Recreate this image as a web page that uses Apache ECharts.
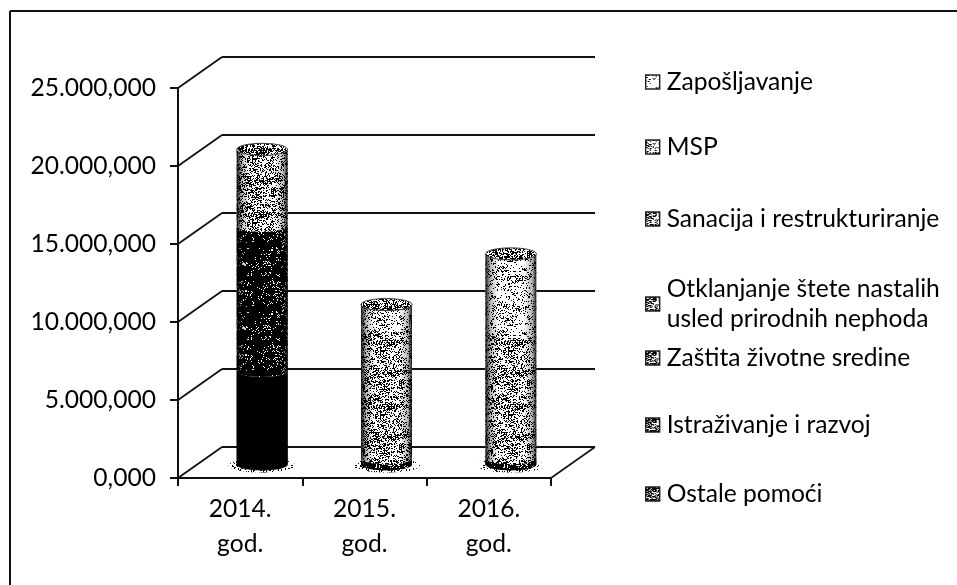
<!DOCTYPE html>
<html><head><meta charset="utf-8">
<style>html,body{margin:0;padding:0;background:#fff}#c{width:957px;height:585px}</style>
<script src="https://cdn.jsdelivr.net/npm/echarts@6/dist/echarts.min.js"></script>
</head><body><div id="c"></div>
<script>
var categories = ['2014.\ngod.', '2015.\ngod.', '2016.\ngod.'];
var seriesNames = ['Ostale pomoći','Istraživanje i razvoj','Zaštita životne sredine','Otklanjanje štete nastalih usled prirodnih nephoda','Sanacija i restrukturiranje','MSP','Zapošljavanje'];
var ostalePomoci   = [6000000, 400000, 400000];
var istrazivanje   = [9300000, 5400000, 3900000];
var zastita        = [0, 0, 0];
var otklanjanje    = [0, 0, 0];
var sanacija       = [0, 3100000, 4200000];
var msp            = [0, 0, 0];
var zaposljavanje  = [4900000, 1350000, 5000000];
var seriesValues = [ostalePomoci, istrazivanje, zastita, otklanjanje, sanacija, msp, zaposljavanje];
var legendTops = [479, 410, 343, 274, 204, 132, 67];
var yMax = 25000000, yStep = 5000000;

// mottled halftone texture (scan look), deterministic hash
function hash(x,y){var h=Math.sin(x*12.9898+y*78.233)*43758.5453;return h-Math.floor(h);}
function tex(ink){
  var c=document.createElement('canvas'); c.width=c.height=64;
  var g=c.getContext('2d'); g.fillStyle='#fff'; g.fillRect(0,0,64,64); g.fillStyle='#000';
  for(var y=0;y<64;y++)for(var x=0;x<64;x++){
    var blob=hash(Math.floor(x/5)+3,Math.floor(y/5)+7)-0.5;
    if(hash(x,y)<ink+blob*0.35*(ink<0.99?1:0)) g.fillRect(x,y,1,1);
  }
  return {image:c,repeat:'repeat'};
}
var patterns={};
function pat(i){ if(!patterns[i]) patterns[i]=tex(i); return patterns[i]; }
var legendInks=[.72,.66,.6,.52,.45,.32,.16];
// ink per [segment][category]
var barInks=[[1,.85,.85],[.92,.4,.36],[.7,.6,.6],[.6,.6,.6],[.5,.36,.36],[.5,.5,.5],[.42,.24,.2]];

var DX=44, DY=-31;     // depth of the 3D box in pixels
var series=[];

series.push({type:'custom',silent:true,z:1,coordinateSystem:'cartesian2d',
  data:[0,5000000,10000000,15000000,20000000,25000000].map(function(v){return [0,v];}),
  encode:{x:0,y:1},
  renderItem:function(params,api){
    var v=api.value(1), cw=api.size([1,0])[0];
    var p=api.coord([0,v]), x0=p[0]-cw/2, y0=p[1];
    var xr=x0+cw*3;
    var kids=[
      {type:'line',shape:{x1:x0,y1:y0,x2:x0+DX,y2:y0+DY},style:{stroke:'#111',lineWidth:1.8}},
      {type:'line',shape:{x1:x0+DX,y1:y0+DY,x2:xr+DX,y2:y0+DY},style:{stroke:'#111',lineWidth:2}}
    ];
    if(v===0) kids.push({type:'line',shape:{x1:xr,y1:y0,x2:xr+DX,y2:y0+DY},style:{stroke:'#111',lineWidth:1.6}});
    return {type:'group',children:kids};
  }});

seriesNames.forEach(function(name,si){
  var rows=[];
  categories.forEach(function(c,ci){
    var base=0; for(var k=0;k<si;k++) base+=seriesValues[k][ci];
    if(seriesValues[si][ci]>0) rows.push([ci,base,base+seriesValues[si][ci]]);
  });
  series.push({type:'custom',name:name,coordinateSystem:'cartesian2d',z:3+si,
    itemStyle:{color:pat(legendInks[si])},
    data:rows,encode:{x:0,y:[1,2]},
    renderItem:function(params,api){
      var ci=api.value(0), lo=api.coord([ci,api.value(1)]), hi=api.coord([ci,api.value(2)]);
      var cx=lo[0]+DX/2, yb=lo[1]+DY/2+2, yt=hi[1]+DY/2+2;
      var rx=api.size([1,0])[0]*0.205, ry=6;
      var body='M'+(cx-rx)+' '+yt+'L'+(cx-rx)+' '+yb+'A'+rx+' '+ry+' 0 0 0 '+(cx+rx)+' '+yb+'L'+(cx+rx)+' '+yt+'A'+rx+' '+ry+' 0 0 1 '+(cx-rx)+' '+yt+'Z';
      var shade={type:'linear',x:0,y:0,x2:1,y2:0,colorStops:[
        {offset:0,color:'rgba(0,0,0,.9)'},{offset:.1,color:'rgba(0,0,0,.3)'},{offset:.25,color:'rgba(0,0,0,0)'},{offset:.75,color:'rgba(0,0,0,0)'},{offset:.92,color:'rgba(0,0,0,.3)'},{offset:1,color:'rgba(0,0,0,.9)'}]};
      var kids=[];
      if(api.value(1)===0){
        kids.push({type:'ellipse',shape:{cx:cx,cy:yb+1,rx:rx+8,ry:ry+1},style:{fill:pat(.15)}});
      }
      kids.push({type:'path',shape:{pathData:body},style:{fill:pat(barInks[si][ci])}});
      kids.push({type:'path',shape:{pathData:body},style:{fill:shade}});
      var total=seriesValues.reduce(function(s,a){return s+a[ci];},0);
      if(api.value(2)===total){
        kids.push({type:'ellipse',shape:{cx:cx,cy:yt,rx:rx,ry:ry},style:{fill:pat(.5),stroke:'#333',lineWidth:1}});
      }
      return {type:'group',children:kids};
    }});
});

var legends=seriesNames.map(function(n,i){
  return {show:true,data:[n],left:645,top:legendTops[i],orient:'vertical',padding:0,
    itemWidth:14,itemHeight:14,itemGap:0,
    icon:'rect',selectedMode:false,
    itemStyle:{borderColor:'#222',borderWidth:1.4},
    textStyle:{fontFamily:'Lato',fontSize:24.6,color:'#000',lineHeight:30,padding:[0,0,0,2]},
    formatter:function(s){return s.replace(' usled','\nusled');}
  };
});

var chart=echarts.init(document.getElementById('c'),null,{renderer:'canvas'});
chart.setOption({
  animation:false,backgroundColor:'#fff',
  graphic:[
    {type:'line',shape:{x1:10,y1:11,x2:957,y2:11},style:{stroke:'#111',lineWidth:2},silent:true,z:0},
    {type:'line',shape:{x1:10,y1:11,x2:10,y2:585},style:{stroke:'#111',lineWidth:2},silent:true,z:0}
  ],
  legend:legends,
  grid:{left:178,top:88,width:373,height:390,containLabel:false},
  xAxis:{type:'category',data:categories,boundaryGap:true,
    axisLine:{lineStyle:{color:'#111',width:2}},
    axisTick:{show:true,alignWithLabel:false,length:8,lineStyle:{color:'#111',width:2}},
    axisLabel:{fontFamily:'Lato',fontSize:24.6,color:'#000',lineHeight:35,margin:14},
    splitLine:{show:false}},
  yAxis:{type:'value',min:0,max:yMax,interval:yStep,
    axisLine:{show:true,lineStyle:{color:'#111',width:2}},
    axisTick:{show:true,length:8,lineStyle:{color:'#111',width:2}},
    axisLabel:{fontFamily:'Lato',fontSize:24.6,color:'#000',margin:22,
      formatter:function(v){return v===0?'0,000':(v/1000000).toFixed(0)+'.000,000';}},
    splitLine:{show:false}},
  series:series
});
</script></body></html>
